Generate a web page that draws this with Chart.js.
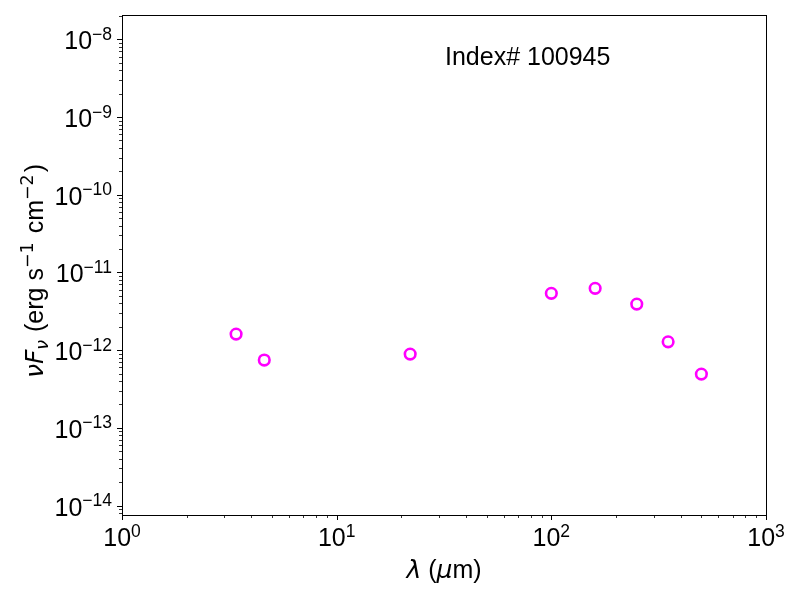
<!DOCTYPE html>
<html lang="en">
<head>
    <meta charset="UTF-8">
    <title>SED Index# 100945</title>
    <script src="https://cdn.jsdelivr.net/npm/chart.js"></script>
    <style>
        body {
            margin: 0;
            background-color: white;
        }
        canvas {
            display: block;
        }
    </style>
</head>
<body>
    <canvas id="sedChart" width="800" height="600"></canvas>

    <script>
        // Data
        const wavelengthUm = [3.4, 4.6, 22, 100, 160, 250, 350, 500];
        const nuFnu = [1.61e-12, 7.46e-13, 8.9e-13, 5.38e-12, 6.24e-12, 3.92e-12, 1.28e-12, 4.92e-13];

        // Axis ranges and tick labels
        const xRange = [1, 1000];
        const yRange = [7.55e-15, 2.06e-8];
        const xMajorExp = [0, 1, 2, 3];
        const yMajorExp = [-14, -13, -12, -11, -10, -9, -8];
        const annotation = 'Index# 100945';

        const FONT = '"Liberation Sans", Arial, sans-serif';
        const MATH = '"DejaVu Sans", sans-serif';
        const BIG = 25;
        const SMALL = 17.5;

        function setFont(ctx, size, italic, family) {
            ctx.font = (italic ? 'italic ' : '') + size + 'px ' + (family || FONT);
        }

        function minus(n) {
            return n < 0 ? '\u2212' + Math.abs(n) : String(n);
        }

        // draw "10^exp" with a raised exponent
        function drawPow(ctx, exp, x, y, align) {
            setFont(ctx, BIG);
            const wb = ctx.measureText('10').width;
            setFont(ctx, SMALL);
            const es = minus(exp);
            const we = ctx.measureText(es).width;
            const total = wb + we;
            const start = align === 'right' ? x - total : x - total / 2;
            setFont(ctx, BIG);
            ctx.fillText('10', start, y);
            setFont(ctx, SMALL);
            ctx.fillText(es, start + wb, y - 9.5);
        }

        // draw a run of text pieces, centred on cx
        function drawRuns(ctx, runs, cx, y) {
            let total = 0;
            runs.forEach(r => {
                setFont(ctx, r.size, r.italic, r.family);
                r.w = ctx.measureText(r.text).width + (r.gap || 0);
                total += r.w;
            });
            let x = cx - total / 2;
            runs.forEach(r => {
                setFont(ctx, r.size, r.italic, r.family);
                ctx.fillText(r.text, x, y + (r.dy || 0));
                x += r.w;
            });
        }

        function minorTicks(lo, hi) {
            const out = [];
            for (let e = Math.floor(Math.log10(lo)); e <= Math.ceil(Math.log10(hi)); e++) {
                for (let m = 2; m <= 9; m++) {
                    const v = m * Math.pow(10, e);
                    if (v >= lo && v <= hi) out.push(v);
                }
            }
            return out;
        }

        const axesPlugin = {
            id: 'axesPlugin',
            afterDraw(chart) {
                const ctx = chart.ctx;
                const a = chart.chartArea;
                const xs = chart.scales.x;
                const ys = chart.scales.y;
                ctx.save();
                ctx.strokeStyle = '#000';
                ctx.fillStyle = '#000';

                // frame
                ctx.lineWidth = 1;
                ctx.strokeRect(a.left + 0.5, a.top + 0.5, a.right - a.left, a.bottom - a.top);

                // tick marks
                ctx.beginPath();
                ctx.lineWidth = 1;
                xMajorExp.forEach(e => {
                    const px = Math.round(xs.getPixelForValue(Math.pow(10, e))) + 0.5;
                    ctx.moveTo(px, a.bottom); ctx.lineTo(px, a.bottom + 5);
                });
                yMajorExp.forEach(e => {
                    const py = Math.round(ys.getPixelForValue(Math.pow(10, e))) + 0.5;
                    ctx.moveTo(a.left, py); ctx.lineTo(a.left - 5, py);
                });
                ctx.stroke();
                ctx.beginPath();
                ctx.lineWidth = 0.8;
                minorTicks(xRange[0], xRange[1]).forEach(v => {
                    const px = Math.round(xs.getPixelForValue(v)) + 0.5;
                    ctx.moveTo(px, a.bottom); ctx.lineTo(px, a.bottom + 3);
                });
                minorTicks(yRange[0], yRange[1]).forEach(v => {
                    const py = Math.round(ys.getPixelForValue(v)) + 0.5;
                    ctx.moveTo(a.left, py); ctx.lineTo(a.left - 3, py);
                });
                ctx.stroke();

                // tick labels
                ctx.textBaseline = 'alphabetic';
                ctx.textAlign = 'left';
                xMajorExp.forEach(e => {
                    drawPow(ctx, e, xs.getPixelForValue(Math.pow(10, e)), a.bottom + 31, 'center');
                });
                yMajorExp.forEach(e => {
                    drawPow(ctx, e, a.left - 10, ys.getPixelForValue(Math.pow(10, e)) + 10, 'right');
                });

                // x title
                drawRuns(ctx, [
                    { text: '\u03bb', size: BIG, italic: true, family: MATH },
                    { text: ' (', size: BIG },
                    { text: '\u03bc', size: BIG, italic: true, family: MATH },
                    { text: 'm)', size: BIG }
                ], (a.left + a.right) / 2, 578);

                // y title
                ctx.save();
                ctx.translate(43, (a.top + a.bottom) / 2 + 6);
                ctx.rotate(-Math.PI / 2);
                drawRuns(ctx, [
                    { text: '\u03bd', size: BIG, italic: true, family: MATH },
                    { text: 'F', size: BIG, italic: true, family: MATH },
                    { text: '\u03bd', size: SMALL, italic: true, family: MATH, dy: 5, gap: 1 },
                    { text: ' (erg s', size: BIG },
                    { text: '\u22121', size: SMALL, family: MATH, dy: -10, gap: 2 },
                    { text: ' cm', size: BIG },
                    { text: '\u22122', size: SMALL, family: MATH, dy: -10, gap: 2 },
                    { text: ')', size: BIG }
                ], 0, 0);
                ctx.restore();

                // annotation
                setFont(ctx, BIG);
                ctx.fillText(annotation, (a.left + a.right) / 2 + 1, a.top + 50);

                ctx.restore();
            }
        };

        const ctx = document.getElementById('sedChart').getContext('2d');
        new Chart(ctx, {
            type: 'scatter',
            data: {
                datasets: [{
                    data: wavelengthUm.map((w, i) => ({ x: w, y: nuFnu[i] })),
                    pointRadius: 5.3,
                    pointBorderWidth: 2.6,
                    pointBorderColor: '#ff00ff',
                    pointBackgroundColor: 'rgba(0,0,0,0)',
                    showLine: false
                }]
            },
            options: {
                responsive: false,
                animation: false,
                layout: { padding: { top: 15, right: 34, left: 0, bottom: 0 } },
                plugins: {
                    legend: { display: false },
                    tooltip: { enabled: false }
                },
                scales: {
                    x: {
                        type: 'logarithmic',
                        min: xRange[0],
                        max: xRange[1],
                        grid: { display: false },
                        border: { display: false },
                        ticks: { display: false },
                        afterFit: s => { s.height = 85; }
                    },
                    y: {
                        type: 'logarithmic',
                        min: yRange[0],
                        max: yRange[1],
                        grid: { display: false },
                        border: { display: false },
                        ticks: { display: false },
                        afterFit: s => { s.width = 122; }
                    }
                }
            },
            plugins: [axesPlugin]
        });
    </script>
</body>
</html>
